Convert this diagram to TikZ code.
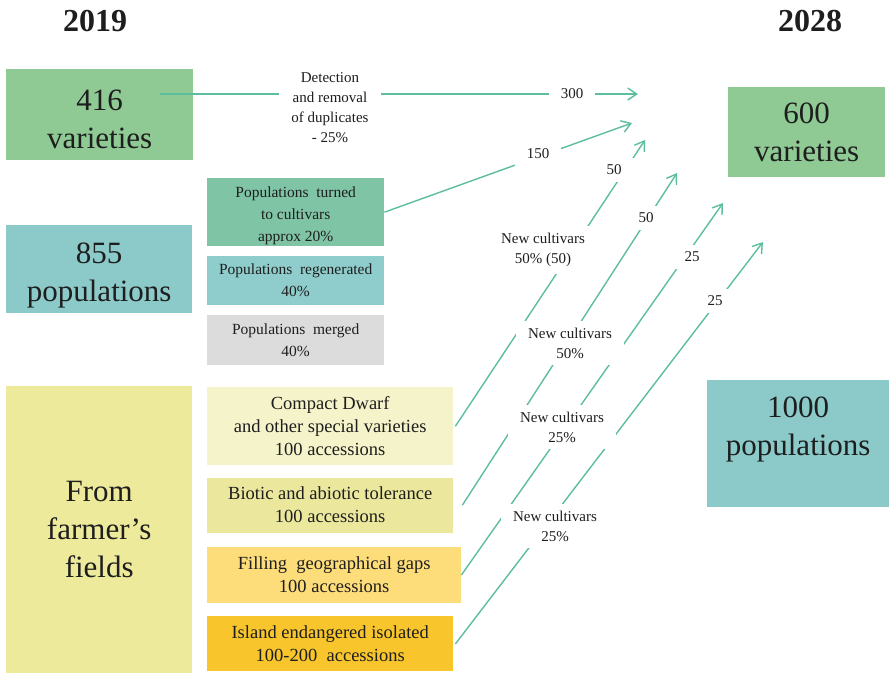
\documentclass[tikz,border=0pt]{standalone}
\usepackage{fontspec}
\setmainfont{Liberation Serif}
\usepackage{tikz}
\usetikzlibrary{arrows.meta,positioning}
\definecolor{vargreen}{HTML}{8FC994}
\definecolor{popteal}{HTML}{8CCACA}
\definecolor{fieldyel}{HTML}{EEEA9B}
\definecolor{turnedgr}{HTML}{80C4A6}
\definecolor{regenteal}{HTML}{8ECDCC}
\definecolor{mergegray}{HTML}{DCDCDC}
\definecolor{dwarfyel}{HTML}{F5F3C9}
\definecolor{bioyel}{HTML}{EBE89D}
\definecolor{gapyel}{HTML}{FDDC7A}
\definecolor{islandyel}{HTML}{F8C62C}
\definecolor{flow}{HTML}{5CBE9E}
\definecolor{ink}{HTML}{1E1E1E}

\begin{document}
\begin{tikzpicture}[x=1pt,y=-1pt, every node/.style={align=center,text=ink,inner sep=0pt},
  big/.style={anchor=north west,font=\fontsize{31}{38}\selectfont},
  sub/.style={anchor=north west,font=\fontsize{15.5}{22}\selectfont,minimum width=177pt},
  acc/.style={anchor=north west,font=\fontsize{18.5}{23}\selectfont,minimum width=246pt,minimum height=55pt},
  lbl/.style={fill=white,font=\fontsize{15}{20}\selectfont,inner xsep=12pt,inner ysep=7pt},
  yr/.style={font=\fontsize{32}{36}\selectfont\bfseries},
  arr/.style={-{Straight Barb[length=9pt,width=12pt]},draw=flow,line width=1.4pt}]
  \useasboundingbox (0,0) rectangle (889,673);
  % years
  \node[yr] (y19) at (95,21) {2019};
  \node[yr] (y28) at (810,21) {2028};
  % stocks
  \node[big,fill=vargreen,minimum width=187pt,minimum height=91pt,text height=67pt] (v416) at (6,69) {416\\varieties};
  \node[big,fill=popteal,minimum width=186pt,minimum height=88pt,text height=71pt] (p855) at (6,225) {855\\populations};
  \node[big,fill=fieldyel,minimum width=186pt,minimum height=287pt] (farm) at (6,386) {From\\farmer’s\\fields};
  \node[big,fill=vargreen,minimum width=157pt,minimum height=90pt] (v600) at (728,87) {600\\varieties};
  \node[big,fill=popteal,minimum width=182pt,minimum height=127pt,text depth=35pt] (p1000) at (707,380) {1000\\populations};
  % populations
  \node[sub,fill=turnedgr,minimum height=68pt,text height=62pt] (turned) at (207,178) {Populations\ \ turned\\to cultivars\\approx 20\%};
  \node[sub,fill=regenteal,minimum height=49pt,below=9pt of turned] (regen) {Populations\ \ regenerated\\40\%};
  \node[sub,fill=mergegray,minimum height=50pt,below=10pt of regen] (merged) {Populations\ \ merged\\40\%};
  % collecting
  \node[acc,fill=dwarfyel,minimum height=78pt] (dwarf) at (207,387) {Compact Dwarf\\and other special varieties\\100 accessions};
  \node[acc,fill=bioyel,below=12pt of dwarf] (biotic) {Biotic and abiotic tolerance\\100 accessions};
  \node[acc,fill=gapyel,minimum width=254pt,minimum height=56pt,below=14pt of biotic.south west,anchor=north west] (gaps) {Filling\ \ geographical gaps\\100 accessions};
  \node[acc,fill=islandyel,below=13pt of gaps.south west,anchor=north west] (island) {Island endangered isolated\\100-200\ \ accessions};
  % flows
  \coordinate (s300) at (160,94);
  \coordinate (t300) at (638,94);
  \coordinate (t150) at (632,123);
  \coordinate (tA) at (645,140);
  \coordinate (tB) at (677,173);
  \coordinate (tC) at (723,203);
  \coordinate (tD) at (763,242);
  \draw[arr] (s300) -- (t300);
  \draw[arr] (turned.east) -- (t150);
  \draw[arr] ([xshift=2pt]dwarf.east) -- (tA);
  \draw[arr] ([xshift=9pt]biotic.east) -- (tB);
  \draw[arr] (gaps.east) -- (tC);
  \draw[arr] ([xshift=2pt]island.east) -- (tD);
  % flow labels
  \node[lbl] (ldup) at (330,108) {Detection\\and removal\\of duplicates\\- 25\%};
  \node[lbl] (l300) at (572,94) {300};
  \node[lbl] (l150) at (538,154) {150};
  \node[lbl] (lA) at (543,250) {New cultivars\\50\% (50)};
  \node[lbl] (nA) at (614,170) {50};
  \node[lbl] (lB) at (570,343) {New cultivars\\50\%};
  \node[lbl] (nB) at (646,218) {50};
  \node[lbl] (lC) at (562,427) {New cultivars\\25\%};
  \node[lbl] (nC) at (692,257) {25};
  \node[lbl] (lD) at (555,526) {New cultivars\\25\%};
  \node[lbl] (nD) at (715,301) {25};
\end{tikzpicture}
\end{document}
